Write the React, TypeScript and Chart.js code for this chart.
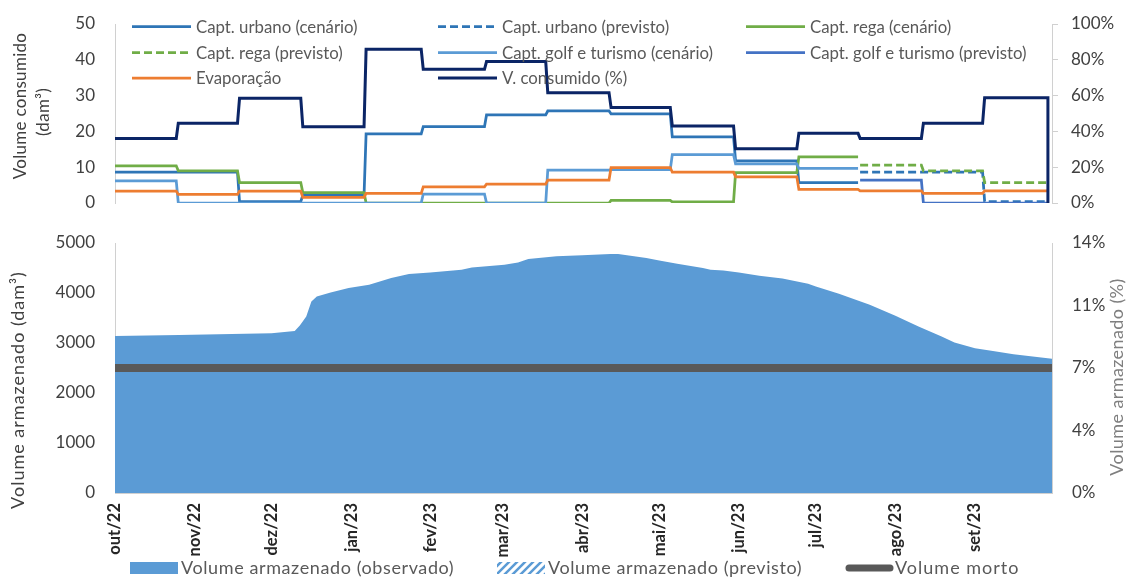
import React, { useEffect, useRef } from 'react';
import { Chart, registerables } from 'chart.js';

Chart.register(...registerables);

const FONT = 'Lato, "Open Sans", sans-serif';

// ---------- Top panel: monthly periods (out/22 .. dez/23) ----------
const periodDays = [31, 30, 31, 31, 28, 31, 30, 31, 30, 31, 31, 30, 31, 30, 31];
const urbanoCenario = [8.6, 8.6, 0.4, 2.2, 19.3, 21.3, 24.6, 25.7, 24.9, 18.5, 11.8, 5.7, null, null, null];
const urbanoPrevisto = [null, null, null, null, null, null, null, null, null, null, null, null, 8.6, 8.6, 0.4];
const regaCenario = [10.4, 9.0, 5.7, 2.9, 0, 0, 0, 0, 0.7, 0.3, 8.5, 12.9, null, null, null];
const regaPrevisto = [null, null, null, null, null, null, null, null, null, null, null, null, 10.6, 9.0, 5.7];
const golfCenario = [6.2, 0, 0, 0, 0, 2.5, 0, 9.2, 9.3, 13.5, 10.9, 9.7, null, null, null];
const golfPrevisto = [null, null, null, null, null, null, null, null, null, null, null, null, 6.4, 0, 0];
const evaporacao = [3.35, 2.4, 3.35, 1.6, 2.7, 4.5, 5.3, 6.4, 9.9, 8.6, 7.3, 3.8, 3.4, 2.7, 3.4];
const consumidoPct = [36, 44.5, 58.5, 42.6, 85.9, 74.7, 79, 61.6, 53.4, 43, 30.3, 38.9, 36.1, 44.5, 58.8];

const topLeftTicks = [0, 10, 20, 30, 40, 50];
const topRightTicks = [0, 20, 40, 60, 80, 100];

// ---------- Bottom panel: daily axis (out/22 .. set/23) ----------
const monthLabels = ['out/22', 'nov/22', 'dez/22', 'jan/23', 'fev/23', 'mar/23', 'abr/23', 'mai/23', 'jun/23', 'jul/23', 'ago/23', 'set/23'];
const monthStarts = [0, 31, 61, 92, 123, 151, 182, 212, 243, 273, 304, 335];
const storedDays = [0, 25, 61, 70, 72, 74.5, 76.5, 78.6, 84, 91, 99, 107.6, 114.5, 122.8, 135, 139, 151.7, 157, 161, 172, 182, 193, 196, 207, 212, 219, 229, 232, 237, 243, 251, 260, 270, 273, 282, 294, 304, 313, 322, 327, 335, 342, 350, 365];
const storedValues = [3142, 3162, 3195, 3242, 3350, 3529, 3830, 3930, 4011, 4098, 4165, 4298, 4378, 4412, 4465, 4512, 4565, 4612, 4679, 4733, 4753, 4780, 4780, 4700, 4652, 4586, 4499, 4465, 4452, 4412, 4345, 4291, 4184, 4131, 3984, 3763, 3543, 3329, 3128, 3008, 2894, 2841, 2774, 2684];
const deadVolume = 2500;
const bottomLeftTicks = [0, 1000, 2000, 3000, 4000, 5000];
const bottomRightTicks = [0, 3.5, 7, 10.5, 14];

const TOTAL_TOP_DAYS = periodDays.reduce((a, b) => a + b, 0);

function stepPoints(values: (number | null)[], dropToZero = false) {
  const pts: { x: number; y: number | null }[] = [];
  let start = 0;
  values.forEach((v, i) => {
    const last = i === values.length - 1;
    const end = last ? start + periodDays[i] : start + periodDays[i] - 1;
    if (v === null) {
      pts.push({ x: start, y: null });
    } else {
      pts.push({ x: start, y: v });
      pts.push({ x: end, y: v });
    }
    start += periodDays[i];
  });
  if (dropToZero) pts.push({ x: start, y: 0 });
  return pts;
}

const TICK_COLOR = '#404040';
const AXIS_COLOR = '#d0d0d0';
const LEGEND_COLOR = '#595959';

function makeHatch(): CanvasPattern | string {
  const c = document.createElement('canvas');
  c.width = 8;
  c.height = 8;
  const g = c.getContext('2d');
  if (!g) return '#5B9BD5';
  g.strokeStyle = '#5B9BD5';
  g.lineWidth = 2.5;
  g.beginPath();
  g.moveTo(0, 8);
  g.lineTo(8, 0);
  g.moveTo(-2, 2);
  g.lineTo(2, -2);
  g.moveTo(6, 10);
  g.lineTo(10, 6);
  g.stroke();
  return g.createPattern(c, 'repeat') || '#5B9BD5';
}

function drawRotatedText(ctx: CanvasRenderingContext2D, text: string, x: number, y: number, font: string, color: string, spacing = 0) {
  ctx.save();
  ctx.translate(x, y);
  ctx.rotate(-Math.PI / 2);
  ctx.font = font;
  (ctx as any).letterSpacing = `${spacing}px`;
  ctx.fillStyle = color;
  ctx.textAlign = 'center';
  ctx.textBaseline = 'middle';
  ctx.fillText(text, 0, 0);
  ctx.restore();
}

function noOverhang(s: any) {
  s.paddingTop = 0;
  s.paddingBottom = 0;
  s.paddingLeft = 0;
  s.paddingRight = 0;
}

export default function App() {
  const topRef = useRef<HTMLCanvasElement | null>(null);
  const bottomRef = useRef<HTMLCanvasElement | null>(null);

  useEffect(() => {
    if (!topRef.current || !bottomRef.current) return;

    const lw = 2.75;
    const topDatasets: any[] = [
      { label: 'Capt. urbano (cenário)', data: stepPoints(urbanoCenario), borderColor: '#2E75B6', borderWidth: lw },
      { label: 'Capt. urbano (previsto)', data: stepPoints(urbanoPrevisto), borderColor: '#2E75B6', borderWidth: lw, borderDash: [8, 4] },
      { label: 'Capt. rega (cenário)', data: stepPoints(regaCenario), borderColor: '#70AD47', borderWidth: lw },
      { label: 'Capt. rega (previsto)', data: stepPoints(regaPrevisto), borderColor: '#70AD47', borderWidth: lw, borderDash: [8, 4] },
      { label: 'Capt. golf e turismo (cenário)', data: stepPoints(golfCenario), borderColor: '#5B9BD5', borderWidth: lw },
      { label: 'Capt. golf e turismo (previsto)', data: stepPoints(golfPrevisto), borderColor: '#4472C4', borderWidth: lw },
      { label: 'Evaporação', data: stepPoints(evaporacao), borderColor: '#ED7D31', borderWidth: lw },
      { label: 'V. consumido (%)', data: stepPoints(consumidoPct, true), borderColor: '#0B2566', borderWidth: lw + 0.25, yAxisID: 'y1' },
    ];
    topDatasets.forEach((d, i) => {
      d.order = topDatasets.length - i;
      d.pointRadius = 0;
      d.fill = false;
      d.spanGaps = false;
      d.tension = 0;
    });

    const legendCols = [132, 438, 746];
    const legendRows = [26.5, 52.5, 78];
    const topLegend = {
      id: 'topLegend',
      afterDraw(chart: any) {
        const ctx = chart.ctx as CanvasRenderingContext2D;
        chart.data.datasets.forEach((ds: any, i: number) => {
          const x = legendCols[i % 3];
          const y = legendRows[Math.floor(i / 3)];
          ctx.save();
          ctx.strokeStyle = ds.borderColor;
          ctx.lineWidth = ds.borderWidth;
          ctx.setLineDash(ds.borderDash || []);
          ctx.beginPath();
          ctx.moveTo(x, y);
          ctx.lineTo(x + 59, y);
          ctx.stroke();
          ctx.setLineDash([]);
          ctx.fillStyle = LEGEND_COLOR;
          ctx.font = `16.8px ${FONT}`;
          ctx.textBaseline = 'middle';
          ctx.textAlign = 'left';
          ctx.fillText(ds.label, x + 64, y + 1);
          ctx.restore();
        });
        drawRotatedText(ctx, 'Volume consumido', 21, 106, `17px ${FONT}`, TICK_COLOR, 0.3);
        drawRotatedText(ctx, '(dam³)', 44, 112, `17px ${FONT}`, TICK_COLOR, 0.3);
      },
    };

    const tickFont = { family: FONT, size: 17 };

    const top = new Chart(topRef.current, {
      type: 'line',
      data: { datasets: topDatasets },
      options: {
        animation: false,
        responsive: false,
        maintainAspectRatio: false,
        layout: { padding: { top: 24, bottom: 12, left: 0, right: 0 } },
        plugins: { legend: { display: false }, tooltip: { enabled: false } },
        scales: {
          x: { type: 'linear', min: 0, max: TOTAL_TOP_DAYS + 2, display: false },
          y: {
            position: 'left',
            min: 0,
            max: 50,
            afterBuildTicks: (s: any) => { s.ticks = topLeftTicks.map((v) => ({ value: v })); },
            ticks: { padding: 20, font: tickFont, color: TICK_COLOR },
            grid: { display: false, drawTicks: false },
            border: { display: true, color: AXIS_COLOR, width: 1 },
            afterFit: (s: any) => { s.width = 115; noOverhang(s); },
          },
          y1: {
            position: 'right',
            min: 0,
            max: 100,
            afterBuildTicks: (s: any) => { s.ticks = topRightTicks.map((v) => ({ value: v })); },
            ticks: { padding: 13, font: tickFont, color: TICK_COLOR, callback: (v: any) => `${v}%` },
            grid: { display: true, drawOnChartArea: false, drawTicks: true, tickLength: 6, color: AXIS_COLOR },
            border: { display: true, color: AXIS_COLOR, width: 1 },
            afterFit: (s: any) => { s.width = 79; noOverhang(s); },
          },
        },
      } as any,
      plugins: [topLegend],
    });

    const hatch = makeHatch();
    const bottomDatasets: any[] = [
      {
        label: 'Volume armazenado (observado)',
        data: storedDays.map((d, i) => ({ x: d, y: storedValues[i] })),
        backgroundColor: '#5B9BD5',
        borderColor: '#5B9BD5',
        borderWidth: 0,
        fill: 'origin',
        pointRadius: 0,
        tension: 0,
        order: 3,
      },
      {
        label: 'Volume armazenado (previsto)',
        data: [],
        backgroundColor: hatch,
        borderColor: '#5B9BD5',
        borderWidth: 0,
        fill: 'origin',
        pointRadius: 0,
        order: 2,
      },
      {
        label: 'Volume morto',
        data: [{ x: 0, y: deadVolume }, { x: 365, y: deadVolume }],
        borderColor: '#595959',
        borderWidth: 8,
        fill: false,
        pointRadius: 0,
        order: 1,
      },
    ];

    const bottomLegend = {
      id: 'bottomLegend',
      afterDraw(chart: any) {
        const ctx = chart.ctx as CanvasRenderingContext2D;
        const y = 353;
        const ds = chart.data.datasets;
        ctx.save();
        ctx.font = `18px ${FONT}`;
        (ctx as any).letterSpacing = '0.6px';
        ctx.fillStyle = LEGEND_COLOR;
        ctx.textBaseline = 'middle';
        ctx.textAlign = 'left';
        // observado
        ctx.fillStyle = ds[0].backgroundColor;
        ctx.fillRect(130, y - 6, 48, 12);
        ctx.fillStyle = LEGEND_COLOR;
        ctx.fillText(ds[0].label, 181, y);
        // previsto
        ctx.fillStyle = ds[1].backgroundColor;
        ctx.fillRect(497, y - 6, 48, 12);
        ctx.fillStyle = LEGEND_COLOR;
        ctx.fillText(ds[1].label, 548, y);
        // morto
        ctx.strokeStyle = ds[2].borderColor;
        ctx.lineWidth = 7;
        ctx.lineCap = 'round';
        ctx.beginPath();
        ctx.moveTo(849, y);
        ctx.lineTo(890, y);
        ctx.stroke();
        (ctx as any).letterSpacing = '1px';
        ctx.fillText(ds[2].label, 895, y);
        ctx.restore();
        drawRotatedText(ctx, 'Volume armazenado (dam³)', 18, 175, `18px ${FONT}`, TICK_COLOR, 1);
        drawRotatedText(ctx, 'Volume armazenado (%)', 1117, 162, `18px ${FONT}`, '#7f7f7f', 0.4);
      },
    };

    const bottom = new Chart(bottomRef.current, {
      type: 'line',
      data: { datasets: bottomDatasets },
      options: {
        animation: false,
        responsive: false,
        maintainAspectRatio: false,
        layout: { padding: { top: 28, bottom: 0, left: 0, right: 0 } },
        plugins: { legend: { display: false }, tooltip: { enabled: false } },
        scales: {
          x: {
            type: 'linear',
            min: 0,
            max: 365,
            afterBuildTicks: (s: any) => { s.ticks = monthStarts.map((v) => ({ value: v })); },
            ticks: {
              autoSkip: false,
              maxRotation: 90,
              minRotation: 90,
              padding: 10,
              font: { family: FONT, size: 16.5, weight: 'bold' },
              color: '#262626',
              callback: (v: any) => monthLabels[monthStarts.indexOf(v)] ?? '',
            },
            grid: { display: false, drawTicks: false },
            border: { display: true, color: AXIS_COLOR, width: 1 },
            afterFit: (s: any) => { s.height = 84; noOverhang(s); },
          },
          y: {
            position: 'left',
            min: 0,
            max: 5000,
            afterBuildTicks: (s: any) => { s.ticks = bottomLeftTicks.map((v) => ({ value: v })); },
            ticks: { padding: 20, font: tickFont, color: TICK_COLOR, callback: (v: any) => String(v) },
            grid: { display: false, drawTicks: false },
            border: { display: true, color: AXIS_COLOR, width: 1 },
            afterFit: (s: any) => { s.width = 115; noOverhang(s); },
          },
          y1: {
            position: 'right',
            min: 0,
            max: 14,
            afterBuildTicks: (s: any) => { s.ticks = bottomRightTicks.map((v) => ({ value: v })); },
            ticks: { padding: 20, font: tickFont, color: TICK_COLOR, callback: (v: any) => `${Math.round(v)}%` },
            grid: { display: false, drawTicks: false },
            border: { display: true, color: AXIS_COLOR, width: 1 },
            afterFit: (s: any) => { s.width = 79; noOverhang(s); },
          },
        },
      } as any,
      plugins: [bottomLegend],
    });

    return () => {
      top.destroy();
      bottom.destroy();
    };
  }, []);

  return (
    <div style={{ position: 'absolute', left: 0, top: 0, width: 1131, height: 577, background: '#fff' }}>
      <canvas ref={topRef} width={1131} height={215} style={{ position: 'absolute', left: 0, top: 0, width: 1131, height: 215 }} />
      <canvas ref={bottomRef} width={1131} height={362} style={{ position: 'absolute', left: 0, top: 215, width: 1131, height: 362 }} />
    </div>
  );
}
